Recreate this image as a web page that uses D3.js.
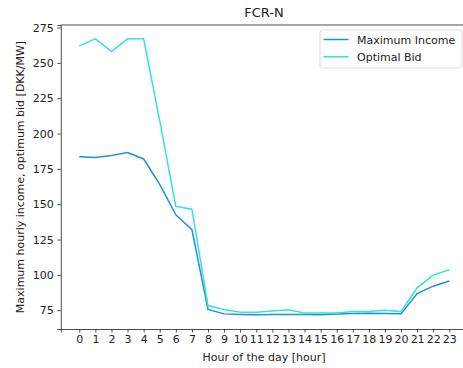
<!DOCTYPE html>
<html>
<head>
<meta charset="utf-8">
<title>FCR-N</title>
<script src="https://d3js.org/d3.v7.min.js"></script>
<style>
  body { margin: 0; background: #fff; }
  text { font-family: "DejaVu Sans", sans-serif; fill: #222; }
</style>
</head>
<body>
<script>
var hours = d3.range(0, 24);
var maxIncome = [183.5, 183, 184.5, 186.5, 182, 164, 142.5, 132, 75.5, 72.4, 72, 71.8, 72, 72, 72, 71.8, 72.3, 72.6, 72.8, 72.6, 72.5, 86.8, 92, 95.6];
var optimalBid = [262, 267, 258, 267, 267, 209, 148.5, 146.5, 78.3, 75.5, 73.5, 73.5, 74.5, 75.3, 73, 73, 73, 74, 74, 75, 74, 90.8, 99.8, 103.6];
var yTicks = [75, 100, 125, 150, 175, 200, 225, 250, 275];
var seriesNames = ["Maximum Income", "Optimal Bid"];
var seriesColors = ["#1f8ee6", "#36e6cc"];

var width = 463, height = 368;
var margin = { top: 25, left: 61, bottom: 39 };

var svg = d3.select("body").append("svg").attr("width", width).attr("height", height);

var x = d3.scaleLinear().domain([-1.15, 24.15]).range([60.8, 467.8]);
var y = d3.scaleLinear().domain([61.7, 276.8]).range([height - margin.bottom, margin.top]);

// axes
svg.append("g")
  .attr("transform", "translate(0," + (height - margin.bottom) + ")")
  .call(d3.axisBottom(x).tickValues(hours).tickFormat(d3.format("d")).tickSizeOuter(0).tickSize(3.5).tickPadding(3))
  .call(function (g) { g.selectAll("text").attr("font-size", "11px"); });

svg.append("g")
  .attr("transform", "translate(60.8,0)")
  .call(d3.axisLeft(y).tickValues(yTicks).tickSizeOuter(0).tickSize(3.5).tickPadding(3.5))
  .call(function (g) { g.selectAll("text").attr("font-size", "11px"); });

svg.selectAll(".domain, .tick line").attr("stroke", "#222").attr("stroke-width", 0.8);

// top spine
svg.append("line")
  .attr("x1", x(-1.15)).attr("x2", x(24.15))
  .attr("y1", y(276.8)).attr("y2", y(276.8))
  .attr("stroke", "#222").attr("stroke-width", 0.8);

// lines
var line = d3.line().x(function (d, i) { return x(hours[i]); }).y(function (d) { return y(d); });
[maxIncome, optimalBid].forEach(function (s, i) {
  svg.append("path").datum(s)
    .attr("fill", "none")
    .attr("stroke", seriesColors[i])
    .attr("stroke-width", 1.5)
    .attr("d", line);
});

// title & labels
svg.append("text").attr("x", 264).attr("y", 17.3).attr("text-anchor", "middle")
  .attr("font-size", "13px").text("FCR-N");
svg.append("text").attr("x", 264).attr("y", 360.5).attr("text-anchor", "middle")
  .attr("font-size", "11px").text("Hour of the day [hour]");
svg.append("text").attr("transform", "translate(24," + ((25 + 329) / 2) + ") rotate(-90)")
  .attr("text-anchor", "middle").attr("font-size", "11px")
  .text("Maximum hourly income, optimum bid [DKK/MW]");

// legend
var lg = svg.append("g").attr("transform", "translate(320,30)");
lg.append("rect").attr("width", 142).attr("height", 38).attr("rx", 2.5)
  .attr("fill", "#fff").attr("fill-opacity", 0.8).attr("stroke", "#d6d6d6").attr("stroke-width", 0.8);
seriesNames.forEach(function (n, i) {
  var yy = 9.5 + i * 17.3;
  lg.append("line").attr("x1", 3.5).attr("x2", 28.5).attr("y1", yy).attr("y2", yy)
    .attr("stroke", seriesColors[i]).attr("stroke-width", 1.5);
  lg.append("text").attr("x", 37).attr("y", yy + 4).attr("font-size", "11px").text(n);
});
</script>
</body>
</html>
